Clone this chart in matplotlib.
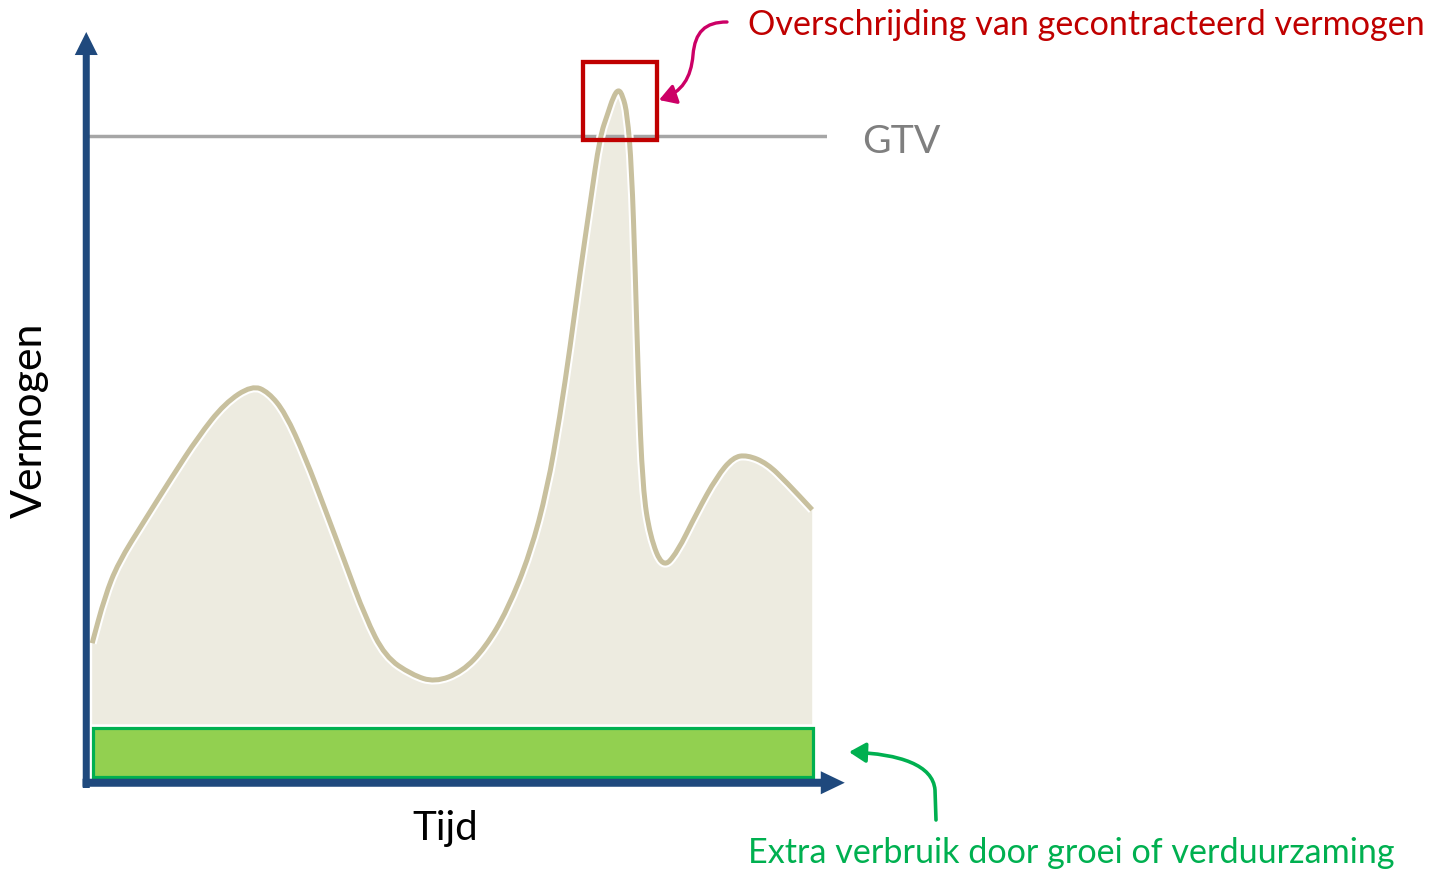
import matplotlib
matplotlib.use('Agg')
import matplotlib.pyplot as plt
from matplotlib.patches import Rectangle, FancyArrowPatch, PathPatch
from matplotlib.path import Path

plt.rcParams['font.family'] = ['Lato', 'DejaVu Sans']

# load profile (time 0-100, power 0-100)
tijd = [0.7, 2.4, 4.2, 7.8, 11.5, 15.0, 18.6, 22.3, 24.5, 26.8,
        29.5, 32.2, 34.9, 37.6, 40.3, 43.9, 47.0, 50.7, 53.8, 56.8,
        59.9, 62.2, 63.9, 65.3, 66.6, 68.0, 69.3, 70.4, 71.1, 71.8,
        72.4, 73.0, 73.6, 74.1, 74.5, 75.1, 76.1, 77.8, 79.7, 82.4,
        85.1, 87.3, 89.2, 91.9, 94.6, 98.0]
vermogen = [18.9, 25.1, 29.6, 35.3, 41.1, 46.4, 50.9, 53.3, 52.4, 49.6,
            43.7, 36.7, 29.6, 22.4, 17.1, 14.7, 13.7, 15.1, 18.3, 23.3,
            30.9, 39.5, 49.1, 58.5, 68.1, 77.6, 86.4, 89.6, 91.7, 92.8,
            91.9, 89.5, 82.4, 68.1, 53.9, 39.5, 33.1, 28.9, 30.9, 36.3,
            41.1, 43.7, 44.0, 42.9, 40.3, 36.7]

gtv = 86.5                  # gecontracteerd transportvermogen
basis = 1.1                 # bottom of the extra-consumption band
extra_verbruik = 6.5        # height of the extra-consumption band
overschrijding_t = (67.0, 77.0)
overschrijding_p = (86.0, 96.4)

label_over = 'Overschrijding van gecontracteerd vermogen'
label_extra = 'Extra verbruik door groei of verduurzaming'

fig = plt.figure(figsize=(14.35, 8.73), dpi=100)
renderer = fig.canvas.get_renderer()

# chart axes
ax = fig.add_axes([87 / 1435, 88 / 873, 740 / 1435, 750 / 873])
ax.set_xlim(0, 100)
ax.set_ylim(0, 100)
ax.axis('off')

# overlay for annotations (pixel layout)
ov = fig.add_axes([0, 0, 1, 1], zorder=5)
ov.set_xlim(0, 1435)
ov.set_ylim(873, 0)
ov.axis('off')


def smooth(xs, ys):
    # quadratic bezier through the midpoints, points act as control points
    pts = list(zip(xs, ys))
    mid = lambda a, b: ((a[0] + b[0]) / 2, (a[1] + b[1]) / 2)
    verts = [pts[0], mid(pts[0], pts[1])]
    codes = [Path.MOVETO, Path.LINETO]
    for i in range(1, len(pts) - 1):
        verts += [pts[i], mid(pts[i], pts[i + 1])]
        codes += [Path.CURVE3, Path.CURVE3]
    verts.append(pts[-1])
    codes.append(Path.LINETO)
    return verts, codes


verts, codes = smooth(tijd, vermogen)
band_top = basis + extra_verbruik + 0.5

# area under profile
fill_path = Path(verts + [(tijd[-1], band_top), (tijd[0], band_top), (0, 0)],
                 codes + [Path.LINETO, Path.LINETO, Path.CLOSEPOLY])
ax.add_patch(PathPatch(fill_path, facecolor='#EDEBE0', lw=0, zorder=1))

line_path = Path(verts, codes)
ax.add_patch(PathPatch(line_path, facecolor='none', edgecolor='white', lw=6.5,
                       capstyle='butt', joinstyle='round', zorder=2))
ax.add_patch(PathPatch(line_path, facecolor='none', edgecolor='#C8C09E', lw=3.6,
                       capstyle='butt', joinstyle='round', zorder=3))

# extra consumption band
ax.add_patch(Rectangle((tijd[0] + 0.1, basis), tijd[-1] - tijd[0], extra_verbruik,
                       facecolor='#92D050', edgecolor='#00B050', lw=2.3,
                       zorder=2, clip_on=False))

# GTV line
ax.plot([0, 100], [gtv, gtv], color='#A6A6A6', lw=2.5, zorder=1.5,
        solid_capstyle='butt')

# overshoot box
ax.add_patch(Rectangle((overschrijding_t[0], overschrijding_p[0]),
                       overschrijding_t[1] - overschrijding_t[0],
                       overschrijding_p[1] - overschrijding_p[0],
                       facecolor='none', edgecolor='#C00000', lw=3.1,
                       zorder=4, clip_on=False))

# axes arrows
ax.arrow(-0.1, -0.4, 0, 100.8, width=0.95, head_width=3.1, head_length=3.07,
         length_includes_head=True, color='#1F497D', lw=0, zorder=6,
         clip_on=False)
ax.arrow(-0.6, 0.3, 103.0, 0, width=1.07, head_width=3.07, head_length=3.24,
         length_includes_head=True, color='#1F497D', lw=0, zorder=6,
         clip_on=False)

# curved callout arrows
pad_rood = Path([(727, 22), (705, 22), (695, 32), (693, 55),
                 (691, 78), (682, 92), (659, 100)],
                [Path.MOVETO, Path.CURVE4, Path.CURVE4, Path.CURVE4,
                 Path.CURVE4, Path.CURVE4, Path.CURVE4])
ov.add_patch(FancyArrowPatch(path=pad_rood,
                             arrowstyle='-|>,head_length=0.5,head_width=0.3',
                             mutation_scale=20, color='#CC0066', lw=2.4))

pad_groen = Path([(936, 820), (935, 790), (933, 765), (900, 754), (849, 752)],
                 [Path.MOVETO, Path.LINETO, Path.CURVE4, Path.CURVE4,
                  Path.CURVE4])
ov.add_patch(FancyArrowPatch(path=pad_groen,
                             arrowstyle='-|>,head_length=0.5,head_width=0.3',
                             mutation_scale=20, color='#00B050', lw=2.6))


def fit_text(x, y, s, breedte, rotation=0, **kw):
    t = ov.text(x, y, s, fontsize=20, **kw)
    bb = t.get_window_extent(renderer=renderer)
    t.set_fontsize(20 * breedte / bb.width)
    if rotation:
        t.set_rotation(rotation)
    return t


fit_text(748, 35, label_over, 679, color='#C00000', va='baseline', ha='left')
fit_text(748, 863, label_extra, 650, color='#00B050', va='baseline', ha='left')
fit_text(862, 153, 'GTV', 78, color='#7F7F7F', va='baseline', ha='left')
fit_text(412, 840, 'Tijd', 66, color='black', va='baseline', ha='left')
fit_text(42, 420, 'Vermogen', 196, rotation=90, color='black', va='baseline',
         ha='center', rotation_mode='anchor')

fig.savefig('out.png', dpi=100)
